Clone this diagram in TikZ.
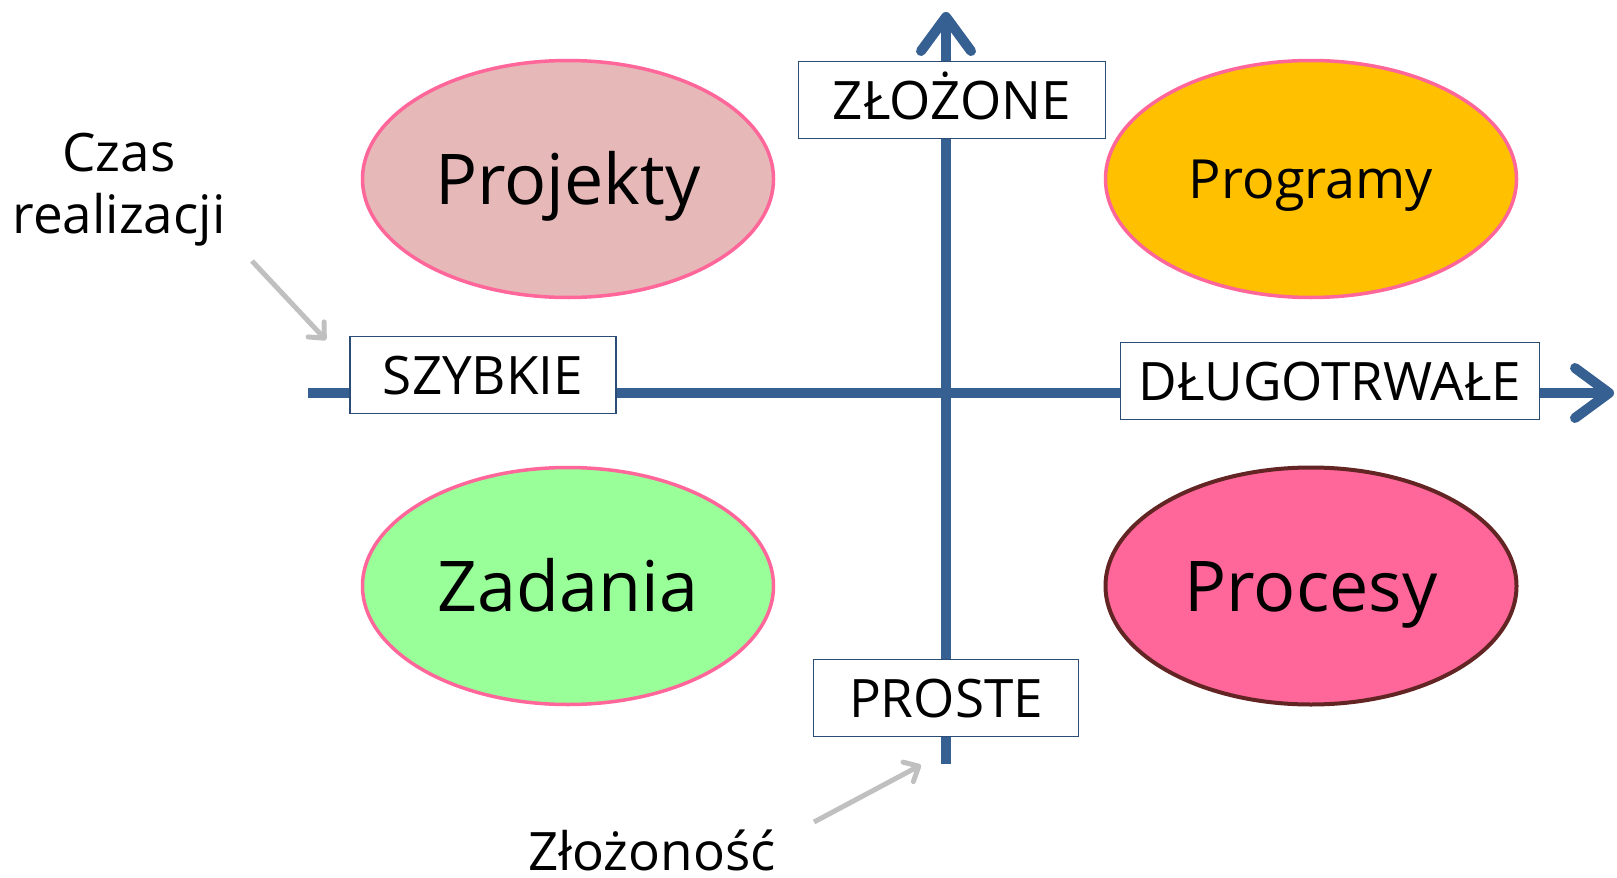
\documentclass[tikz,border=0pt]{standalone}
\usepackage{fontspec}
\setmainfont{Open Sans}
\usepackage{tikz}
\usetikzlibrary{positioning, shapes.geometric, arrows.meta}

\definecolor{axisblue}{HTML}{376092}
\definecolor{boxline}{HTML}{2B4C74}
\definecolor{rimpink}{HTML}{FF6699}
\definecolor{rimbrown}{HTML}{632523}
\definecolor{fillrose}{HTML}{E6B8B7}
\definecolor{fillamber}{HTML}{FFC000}
\definecolor{fillgreen}{HTML}{99FF99}
\definecolor{fillpink}{HTML}{FF6699}
\definecolor{pointgray}{HTML}{C0C0C0}

\begin{document}
\begin{tikzpicture}[x=1pt, y=-1pt]
    % Define styles
    \tikzstyle{quadrant} = [ellipse, minimum width=411pt, minimum height=237pt, inner sep=0pt, line width=3.5pt, draw=rimpink, text height=50pt, text depth=0pt, font=\fontsize{70}{80}\selectfont]
    \tikzstyle{pole} = [rectangle, minimum height=77pt, inner sep=0pt, draw=boxline, line width=1.5pt, fill=white, text height=38pt, text depth=0pt, font=\fontsize{53}{62}\selectfont]
    \tikzstyle{axis} = [line width=10pt, draw=axisblue]
    \tikzstyle{axisarrow} = [axis, -{Straight Barb[round, length=34pt, width=50pt]}]
    \tikzstyle{pointer} = [line width=5pt, draw=pointgray, -{Straight Barb[round, length=12pt, width=22pt]}]
    \tikzstyle{caption} = [align=center, font=\fontsize{53}{62}\selectfont]

    \useasboundingbox (0,0) rectangle (1617,878);

    % Axes
    \coordinate (xfrom) at (308,393);
    \coordinate (xto) at (1614,393);
    \coordinate (yfrom) at (946,764);
    \coordinate (yto) at (946,12);
    \draw [axisarrow] (xfrom) -- (xto);
    \draw [axisarrow] (yfrom) -- (yto);

    % Nodes
    \node (projekty) [quadrant, fill=fillrose] at (568,179) {Projekty};
    \node (programy) [quadrant, fill=fillamber, text height=38.5pt, font=\fontsize{54}{62}\selectfont] at (1311,179) {Programy};
    \node (zadania) [quadrant, fill=fillgreen] at (568,586) {Zadania};
    \node (procesy) [quadrant, fill=fillpink, draw=rimbrown, line width=4pt] at (1311,586) {Procesy};

    \node (zlozone) [pole, minimum width=307pt] at (952,100) {ZŁOŻONE};
    \node (szybkie) [pole, minimum width=266pt] at (483,375) {SZYBKIE};
    \node (dlugo) [pole, minimum width=419pt] at (1330,381) {DŁUGOTRWAŁE};
    \node (proste) [pole, minimum width=265pt] at (946,698) {PROSTE};

    \node (czas) [caption] at (119,190) {Czas\\realizacji};
    \node (zlozonosc) [caption, inner sep=0pt, text depth=0pt, anchor=base] at (652,870) {Złożoność};

    % Arrows
    \coordinate (czasfrom) at (252,261);
    \coordinate (czasto) at (326,340);
    \coordinate (zlofrom) at (814,822);
    \coordinate (zloto) at (921,765);
    \draw [pointer] (czasfrom) -- (czasto);
    \draw [pointer] (zlofrom) -- (zloto);
\end{tikzpicture}
\end{document}
